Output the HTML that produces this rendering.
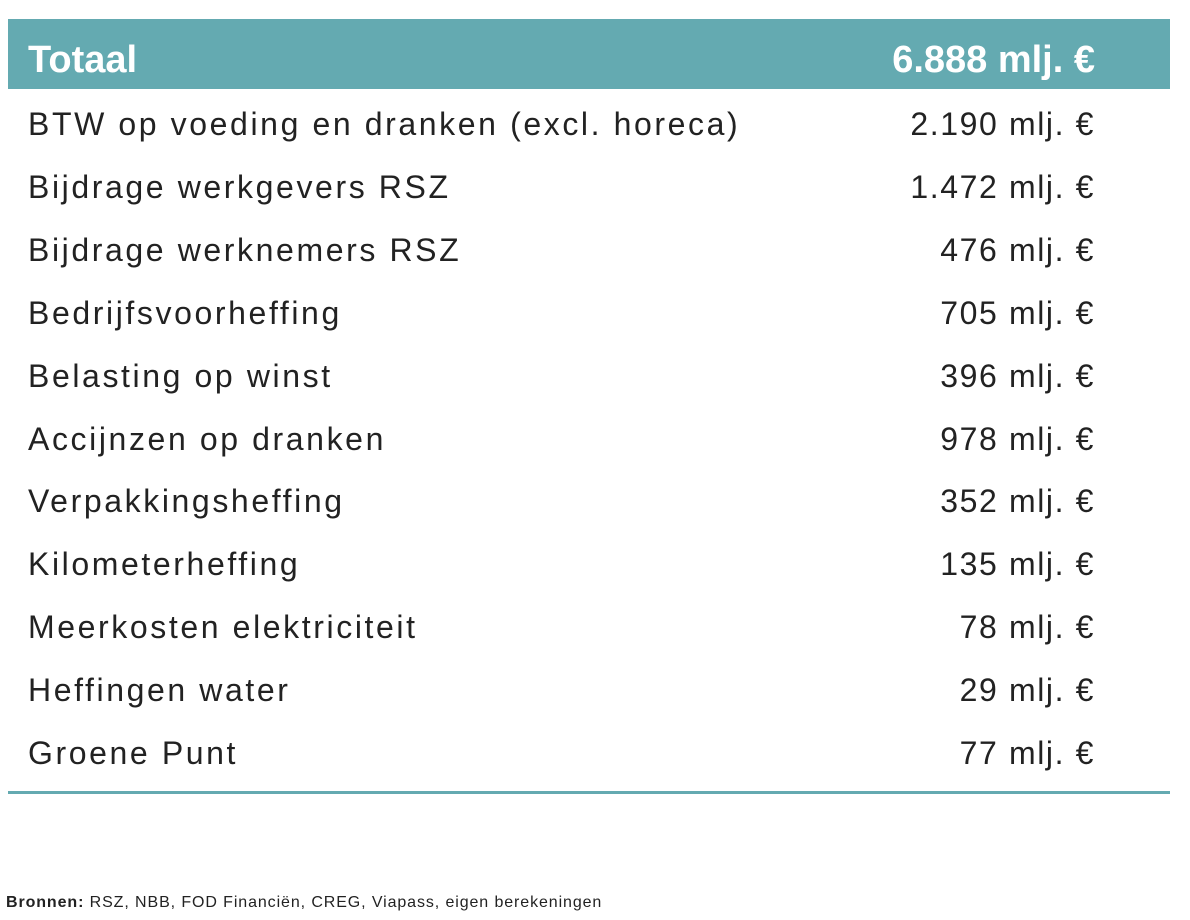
<!DOCTYPE html>
<html><head><meta charset="utf-8"><style>
body{margin:0;width:1190px;height:920px;background:#fff;position:relative;font-family:"Liberation Sans",sans-serif;color:#222;overflow:hidden}
.hdr{position:absolute;left:8px;top:19px;width:1162px;height:70px;background:#64aab1}
.t{position:absolute;white-space:nowrap;line-height:1}
.l{left:28px;font-size:32px;letter-spacing:2.6px}
.r{right:95px;font-size:32px;letter-spacing:1.6px}
.h{color:#fff;font-weight:bold;font-size:38px;letter-spacing:0}
.line{position:absolute;left:8px;top:791px;width:1162px;height:3px;background:#64aab1}
.foot{position:absolute;left:6px;top:894px;font-size:16px;letter-spacing:0.9px;color:#222}
</style></head><body>
<div class="hdr"></div>
<div class="t h" style="left:28px;top:41px">Totaal</div>
<div class="t h" style="right:95px;top:41px">6.888 mlj. €</div>
<div class="t l" style="top:108px">BTW op voeding en dranken (excl. horeca)</div><div class="t r" style="top:108px">2.190 mlj. €</div>
<div class="t l" style="top:171px">Bijdrage werkgevers RSZ</div><div class="t r" style="top:171px">1.472 mlj. €</div>
<div class="t l" style="top:234px">Bijdrage werknemers RSZ</div><div class="t r" style="top:234px">476 mlj. €</div>
<div class="t l" style="top:297px">Bedrijfsvoorheffing</div><div class="t r" style="top:297px">705 mlj. €</div>
<div class="t l" style="top:360px">Belasting op winst</div><div class="t r" style="top:360px">396 mlj. €</div>
<div class="t l" style="top:423px">Accijnzen op dranken</div><div class="t r" style="top:423px">978 mlj. €</div>
<div class="t l" style="top:485px">Verpakkingsheffing</div><div class="t r" style="top:485px">352 mlj. €</div>
<div class="t l" style="top:548px">Kilometerheffing</div><div class="t r" style="top:548px">135 mlj. €</div>
<div class="t l" style="top:611px">Meerkosten elektriciteit</div><div class="t r" style="top:611px">78 mlj. €</div>
<div class="t l" style="top:674px">Heffingen water</div><div class="t r" style="top:674px">29 mlj. €</div>
<div class="t l" style="top:737px">Groene Punt</div><div class="t r" style="top:737px">77 mlj. €</div>
<div class="line"></div>
<div class="foot"><b>Bronnen:</b> RSZ, NBB, FOD Financiën, CREG, Viapass, eigen berekeningen</div>
</body></html>
